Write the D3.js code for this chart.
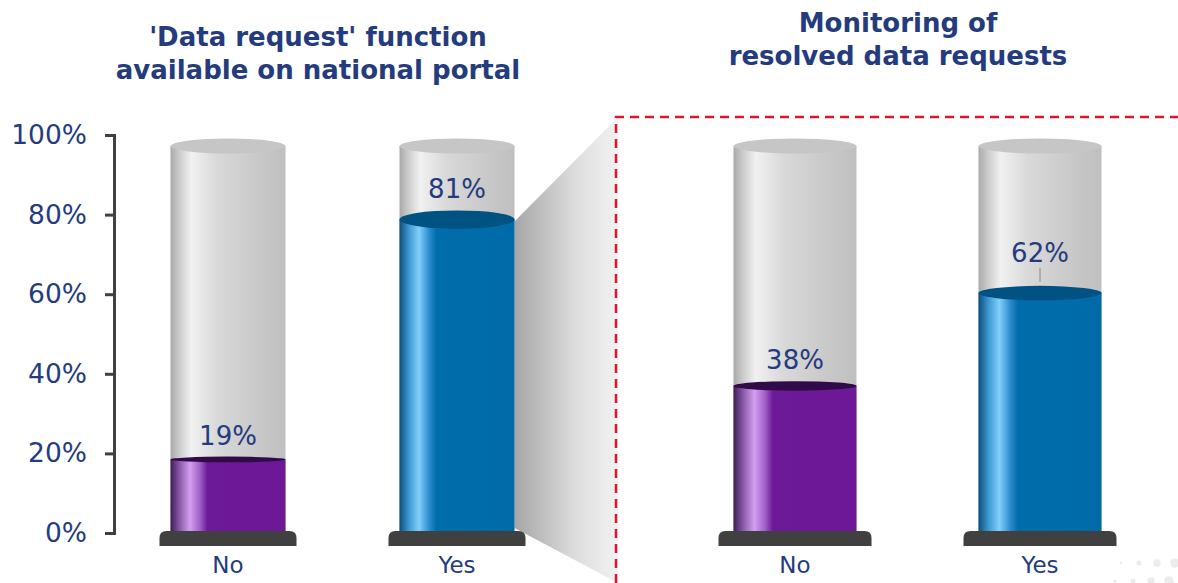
<!DOCTYPE html>
<html>
<head>
<meta charset="utf-8">
<script src="https://cdn.jsdelivr.net/npm/d3@7"></script>
<style>
    body { margin: 0; background: #fff; }
    svg { display: block; font-family: "DejaVu Sans", Verdana, sans-serif; }
</style>
</head>
<body>
<svg id="chart"></svg>
<script>
// data
const categories = ["No", "Yes"];
const portalValues = [0.19, 0.81];
const monitoringValues = [0.38, 0.62];
const portalTitle = ["'Data request' function", "available on national portal"];
const monitoringTitle = ["Monitoring of", "resolved data requests"];
const tickValues = [0, 0.2, 0.4, 0.6, 0.8, 1];

const W = 1178, H = 583;
const textColor = "#243b7d";
const svg = d3.select("#chart").attr("width", W).attr("height", H);
const defs = svg.append("defs");

// horizontal gradients for the cylinders
const gradients = {
    glass: [["0%", "#a9a9a9"], ["7%", "#c9c9c9"], ["18%", "#f1f1f1"], ["40%", "#d9d9d9"], ["75%", "#c9c9c9"], ["100%", "#bfbfbf"]],
    purple: [["0%", "#3d1d55"], ["8%", "#8a5aa8"], ["17%", "#d39ff0"], ["26%", "#9d5cc4"], ["32%", "#6d1a98"], ["100%", "#6d1896"]],
    blue: [["0%", "#0b4f7c"], ["8%", "#3d97cf"], ["17%", "#80d0fa"], ["26%", "#2a8bcb"], ["32%", "#006dab"], ["100%", "#006aa8"]],
    zoom: [["0%", "#a6a6a6"], ["60%", "#dedede"], ["100%", "#f2f2f2"]]
};
Object.entries(gradients).forEach(([id, stops]) => {
    defs.append("linearGradient").attr("id", "g-" + id)
        .attr("x1", "0%").attr("x2", "100%").attr("y1", "0%").attr("y2", "0%")
        .selectAll("stop").data(stops).enter().append("stop")
        .attr("offset", d => d[0]).attr("stop-color", d => d[1]);
});
const topColors = { purple: "#2f0b47", blue: "#005283" };

// scales
const yAxisScale = d3.scaleLinear([0, 1], [533, 135]);
const yCyl = d3.scaleLinear([0, 1], [533, 146]);

// zoom wedge + dashed frame
const panelLeft = 616;
const wedge = d3.area()
    .x(d => d.x).y0(d => d.y0).y1(d => d.y1);

// axis
const axis = d3.axisLeft(yAxisScale)
    .tickValues(tickValues)
    .tickFormat(d3.format(".0%"))
    .tickSize(9)
    .tickPadding(18);
const gAxis = svg.append("g").attr("transform", "translate(114,0)").call(axis);
gAxis.selectAll("path, line").attr("stroke", "#404040").attr("stroke-width", 3);
gAxis.selectAll("text").attr("fill", textColor).attr("font-size", 26.5)
    .attr("font-family", "DejaVu Sans, Verdana, sans-serif");

const panels = [
    { values: portalValues, title: portalTitle, x: d3.scalePoint(categories, [228, 457]), w: 115, base: 11, titleX: 318, titleY: 46, leader: null },
    { values: monitoringValues, title: monitoringTitle, x: d3.scalePoint(categories, [795, 1040]), w: 123, base: 15, titleX: 898, titleY: 32, leader: "Yes" }
];
const fills = ["purple", "blue"];

// wedge from the left "Yes" cylinder to the right panel
const p0 = panels[0];
const yesRight = p0.x("Yes") + p0.w / 2;
const yesTop = yCyl(portalValues[1]) + 2;
svg.append("path")
    .attr("d", wedge([
        { x: yesRight, y0: 528, y1: yesTop },
        { x: panelLeft + 2, y0: H, y1: yAxisScale(1) - 18 }
    ]))
    .attr("fill", "url(#g-zoom)");

svg.append("path")
    .attr("d", `M${panelLeft},${H} V${yAxisScale(1) - 18} H${W}`)
    .attr("fill", "none")
    .attr("stroke", "#e8112d")
    .attr("stroke-width", 2.5)
    .attr("stroke-dasharray", "9,6");

function basePath(cx, half, top, h, r) {
    return `M${cx - half},${top + h} V${top + r} Q${cx - half},${top} ${cx - half + r},${top}` +
        ` H${cx + half - r} Q${cx + half},${top} ${cx + half},${top + r} V${top + h} Z`;
}

panels.forEach(p => {
    const g = svg.append("g");
    const data = categories.map((c, i) => ({ cat: c, v: p.values[i], fill: fills[i] }));
    const half = p.w / 2;

    // titles
    g.append("text")
        .attr("x", p.titleX).attr("y", p.titleY)
        .attr("text-anchor", "middle")
        .attr("fill", textColor).attr("font-size", 26).attr("font-weight", "bold")
        .selectAll("tspan").data(p.title).enter().append("tspan")
        .attr("x", p.titleX).attr("dy", (d, i) => i ? 33 : 0)
        .text(d => d);

    const cyl = g.selectAll("g.cyl").data(data).enter().append("g").attr("class", "cyl");

    // empty glass
    cyl.append("rect")
        .attr("x", d => p.x(d.cat) - half).attr("width", p.w)
        .attr("y", yCyl(1)).attr("height", yCyl(0) - yCyl(1))
        .attr("fill", "url(#g-glass)");
    cyl.append("ellipse")
        .attr("cx", d => p.x(d.cat)).attr("cy", yCyl(1))
        .attr("rx", half).attr("ry", 7.5)
        .attr("fill", "#c6c6c6");

    // liquid
    cyl.append("rect")
        .attr("x", d => p.x(d.cat) - half).attr("width", p.w)
        .attr("y", d => yCyl(d.v)).attr("height", d => yCyl(0) - yCyl(d.v))
        .attr("fill", d => `url(#g-${d.fill})`);
    cyl.append("ellipse")
        .attr("cx", d => p.x(d.cat)).attr("cy", d => yCyl(d.v))
        .attr("rx", half).attr("ry", d => 1 + 10 * d.v)
        .attr("fill", d => topColors[d.fill]);

    // base
    cyl.append("path")
        .attr("d", d => basePath(p.x(d.cat), half + p.base, 531, 15, 7))
        .attr("fill", "#404040");

    // value labels
    cyl.append("text")
        .attr("x", d => p.x(d.cat))
        .attr("y", d => yCyl(d.v) - (1 + 10 * d.v) - (d.cat === p.leader ? 24 : 12))
        .attr("text-anchor", "middle")
        .attr("fill", textColor).attr("font-size", 26)
        .text(d => d3.format(".0%")(d.v));
    cyl.filter(d => d.cat === p.leader).append("line")
        .attr("x1", d => p.x(d.cat)).attr("x2", d => p.x(d.cat))
        .attr("y1", d => yCyl(d.v) - (1 + 10 * d.v) - 18)
        .attr("y2", d => yCyl(d.v) - (1 + 10 * d.v) - 4)
        .attr("stroke", "#a0a0a0").attr("stroke-width", 1.5);

    // category labels
    cyl.append("text")
        .attr("x", d => p.x(d.cat)).attr("y", 573)
        .attr("text-anchor", "middle")
        .attr("fill", textColor).attr("font-size", 23)
        .text(d => d.cat);
});

// faint decorative dots, bottom right
const dotCols = d3.range(4), dotRows = d3.range(2);
svg.append("g").selectAll("circle")
    .data(d3.cross(dotRows, dotCols)).enter().append("circle")
    .attr("cx", d => 1121 + d[1] * 18 - d[0] * 6)
    .attr("cy", d => 563 + d[0] * 18)
    .attr("r", d => 1.5 + d[1] * 1.1)
    .attr("fill", "#ececec");
</script>
</body>
</html>
